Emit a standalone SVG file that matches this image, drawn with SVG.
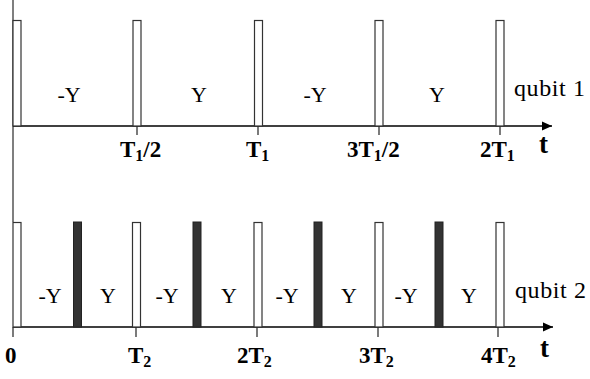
<svg xmlns="http://www.w3.org/2000/svg" width="590" height="379" viewBox="0 0 590 379">
<style>
.ax{stroke:#000;stroke-width:1.6;fill:none}
.tk{stroke:#222;stroke-width:1.2}
.wp{fill:#fff;stroke:#333;stroke-width:1.2}
.bp{fill:#333;stroke:#222;stroke-width:1}
.lb{font-family:"Liberation Serif","Times New Roman",serif;font-size:22px;fill:#000;text-anchor:middle}
.q{font-family:"Liberation Serif","Times New Roman",serif;font-size:24px;fill:#000}
.tl{font-family:"Liberation Serif","Times New Roman",serif;font-size:23px;font-weight:bold;fill:#000}
.sb{font-size:16px}
.t{font-family:"Liberation Serif","Times New Roman",serif;font-size:27px;font-weight:bold;fill:#000}
</style>
<defs>
<marker id="ah" markerUnits="userSpaceOnUse" markerWidth="12" markerHeight="10" refX="10" refY="5" orient="auto">
<path d="M0,0.5 L10,5 L0,9.5 Z" fill="#000"/>
</marker>
</defs>
<g id="connectors">
<line x1="13" y1="0" x2="13" y2="222" stroke="#555" stroke-width="1.5"/>
<line class="ax" x1="13" y1="126" x2="552" y2="126" marker-end="url(#ah)"/>
<line class="ax" x1="13" y1="327" x2="553" y2="327" marker-end="url(#ah)"/>
<line class="tk" x1="137" y1="126" x2="137" y2="135"/>
<line class="tk" x1="258" y1="126" x2="258" y2="135"/>
<line class="tk" x1="379" y1="126" x2="379" y2="135"/>
<line class="tk" x1="500" y1="126" x2="500" y2="135"/>
<line class="tk" x1="13" y1="327" x2="13" y2="337"/>
<line class="tk" x1="136" y1="327" x2="136" y2="337"/>
<line class="tk" x1="257" y1="327" x2="257" y2="337"/>
<line class="tk" x1="378" y1="327" x2="378" y2="337"/>
<line class="tk" x1="498" y1="327" x2="498" y2="337"/>
</g>
<g id="qubit1">
<rect class="wp" x="13" y="20.5" width="8" height="105.5"/>
<rect class="wp" x="133" y="20.5" width="8" height="105.5"/>
<rect class="wp" x="254.5" y="20.5" width="8" height="105.5"/>
<rect class="wp" x="375" y="20.5" width="8" height="105.5"/>
<rect class="wp" x="496" y="20.5" width="8" height="105.5"/>
<text class="lb" x="69" y="102">-Y</text>
<text class="lb" x="199" y="102">Y</text>
<text class="lb" x="315" y="102">-Y</text>
<text class="lb" x="437" y="102">Y</text>
<text class="q" x="514" y="96" textLength="71">qubit 1</text>
<text class="tl" x="120" y="157">T<tspan class="sb" dy="4">1</tspan><tspan dy="-4">/2</tspan></text>
<text class="tl" x="246" y="157">T<tspan class="sb" dy="4">1</tspan></text>
<text class="tl" x="347" y="157">3T<tspan class="sb" dy="4">1</tspan><tspan dy="-4">/2</tspan></text>
<text class="tl" x="480" y="157">2T<tspan class="sb" dy="4">1</tspan></text>
<text class="t" x="539" y="153">t</text>
</g>
<g id="qubit2">
<rect class="wp" x="13" y="222.5" width="8" height="104.5"/>
<rect class="bp" x="73.5" y="222" width="8" height="105"/>
<rect class="wp" x="132.5" y="222.5" width="8" height="104.5"/>
<rect class="bp" x="193" y="222" width="8" height="105"/>
<rect class="wp" x="254" y="222.5" width="8" height="104.5"/>
<rect class="bp" x="314" y="222" width="8" height="105"/>
<rect class="wp" x="375" y="222.5" width="8" height="104.5"/>
<rect class="bp" x="435" y="222" width="8" height="105"/>
<rect class="wp" x="496" y="222.5" width="8" height="104.5"/>
<text class="lb" x="50" y="303">-Y</text>
<text class="lb" x="108" y="303">Y</text>
<text class="lb" x="167" y="303">-Y</text>
<text class="lb" x="229" y="303">Y</text>
<text class="lb" x="287" y="303">-Y</text>
<text class="lb" x="349" y="303">Y</text>
<text class="lb" x="406" y="303">-Y</text>
<text class="lb" x="469" y="303">Y</text>
<text class="q" x="515" y="298" textLength="71">qubit 2</text>
<text class="tl" x="5" y="363">0</text>
<text class="tl" x="128" y="363">T<tspan class="sb" dy="4">2</tspan></text>
<text class="tl" x="237" y="363">2T<tspan class="sb" dy="4">2</tspan></text>
<text class="tl" x="359" y="363">3T<tspan class="sb" dy="4">2</tspan></text>
<text class="tl" x="481" y="363">4T<tspan class="sb" dy="4">2</tspan></text>
<text class="t" x="540" y="357">t</text>
</g>
</svg>
